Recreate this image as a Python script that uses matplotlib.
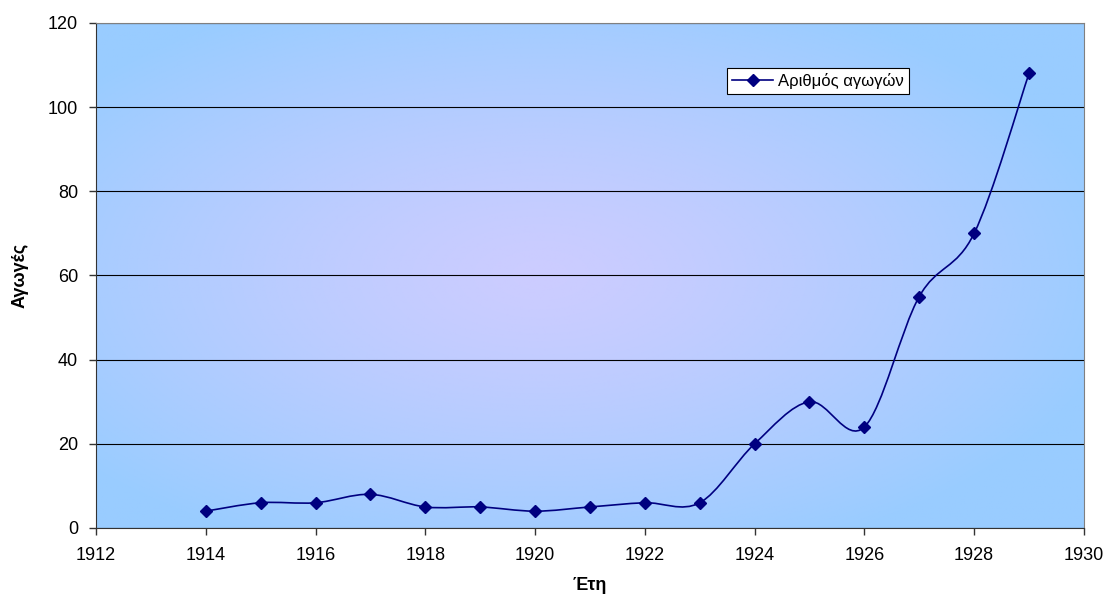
import numpy as np
import matplotlib.pyplot as plt
from matplotlib.path import Path
from matplotlib.patches import PathPatch
from matplotlib.lines import Line2D

years = [1914, 1915, 1916, 1917, 1918, 1919, 1920, 1921, 1922, 1923,
         1924, 1925, 1926, 1927, 1928, 1929]
cases = [4, 6, 6, 8, 5, 5, 4, 5, 6, 6, 20, 30, 24, 55, 70, 108]
series_name = "Αριθμός αγωγών"
x_label = "Έτη"
y_label = "Αγωγές"


def smooth_path(x, y):
    # Bezier segments with Catmull-Rom style control points
    x = np.asarray(x, float)
    y = np.asarray(y, float)
    n = len(x)
    verts = [(x[0], y[0])]
    codes = [Path.MOVETO]
    for i in range(n - 1):
        p0 = (x[max(i - 1, 0)], y[max(i - 1, 0)])
        p1 = (x[i], y[i])
        p2 = (x[i + 1], y[i + 1])
        p3 = (x[min(i + 2, n - 1)], y[min(i + 2, n - 1)])
        c1 = (p1[0] + (p2[0] - p0[0]) / 6, p1[1] + (p2[1] - p0[1]) / 6)
        c2 = (p2[0] - (p3[0] - p1[0]) / 6, p2[1] - (p3[1] - p1[1]) / 6)
        verts += [c1, c2, p2]
        codes += [Path.CURVE4] * 3
    return Path(verts, codes)


plt.rcParams['font.family'] = ['Liberation Sans', 'DejaVu Sans']

fig = plt.figure(figsize=(11.06, 6), dpi=100)
ax = fig.add_axes([0.0868, 0.12, 0.8932, 0.8417])

# radial background fill
gx, gy = np.meshgrid(np.linspace(0, 1, 400), np.linspace(0, 1, 300))
r = np.sqrt(((gx - 0.45) / 0.6) ** 2 + ((gy - 0.5) / 0.6) ** 2)
t = np.clip(r, 0, 1) ** 1.3
inner = np.array([204, 204, 255]) / 255
outer = np.array([153, 204, 255]) / 255
img = inner[None, None, :] * (1 - t[..., None]) + outer[None, None, :] * t[..., None]
ax.imshow(img, extent=[0, 1, 0, 1], transform=ax.transAxes, aspect='auto',
          zorder=0, origin='lower')

ax.set_xlim(1912, 1930)
ax.set_ylim(0, 120)
ax.set_xticks(range(1912, 1931, 2))
ax.set_yticks(range(0, 121, 20))
ax.yaxis.grid(True, color='black', linewidth=0.8)
ax.set_axisbelow(True)

curve = PathPatch(smooth_path(years, cases), facecolor='none',
                  edgecolor='#000080', linewidth=1.2, zorder=3)
ax.add_patch(curve)
ax.plot(years, cases, linestyle='none', marker='D', markersize=6.5,
        color='#000080', zorder=4)

for side in ['top', 'right']:
    ax.spines[side].set_color('#808080')
for side in ['left', 'bottom']:
    ax.spines[side].set_color('#333333')
ax.tick_params(axis='both', direction='out', length=5, width=1,
               color='#333333', labelsize=13)
ax.tick_params(axis='x', pad=9)
ax.tick_params(axis='y', pad=8)

ax.set_xlabel(x_label, fontsize=13, fontweight='bold', labelpad=9)
ax.set_ylabel(y_label, fontsize=13, fontweight='bold', labelpad=14)

handle = Line2D([], [], color='#000080', marker='D', markersize=6, linewidth=1.2)
leg = ax.legend([handle], [series_name], loc='upper left',
                bbox_to_anchor=(0.630, 0.928), fontsize=12, frameon=True,
                fancybox=False, framealpha=1, edgecolor='black',
                borderpad=0.3, handlelength=2.5, handletextpad=0.3)
leg.get_frame().set_linewidth(0.8)

fig.savefig("out.png", dpi=100, facecolor='white')
